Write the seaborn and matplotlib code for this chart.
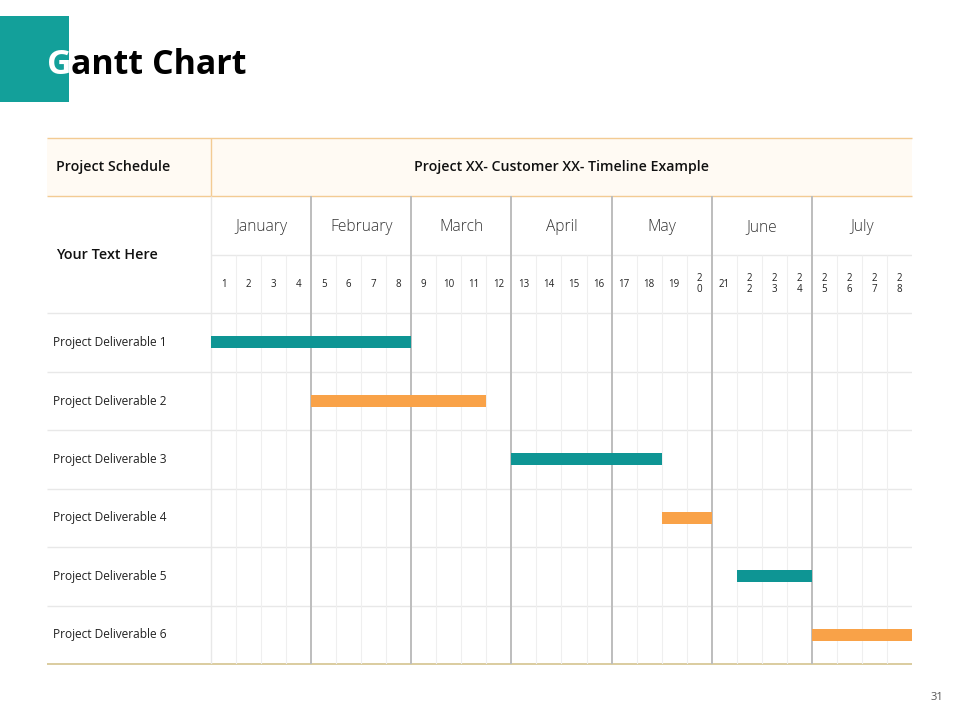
import matplotlib
matplotlib.use("Agg")
import matplotlib.pyplot as plt
from matplotlib.patches import Rectangle
import pandas as pd
import seaborn as sns

# chart data
months = ["January", "February", "March", "April", "May", "June", "July"]
week_labels = ["1", "2", "3", "4", "5", "6", "7", "8", "9", "10", "11", "12",
               "13", "14", "15", "16", "17", "18", "19", "2\n0", "21", "2\n2",
               "2\n3", "2\n4", "2\n5", "2\n6", "2\n7", "2\n8"]
deliverables = ["Project Deliverable 1", "Project Deliverable 2", "Project Deliverable 3",
                "Project Deliverable 4", "Project Deliverable 5", "Project Deliverable 6"]
start_week = [1, 5, 13, 19, 22, 25]
end_week = [8, 11, 18, 20, 24, 28]

TEAL = "#0E9594"
ORANGE = "#F9A248"
bar_colors = [TEAL, ORANGE, TEAL, ORANGE, TEAL, ORANGE]

sns.set_theme(style="white")
plt.rcParams["font.family"] = ["Open Sans", "DejaVu Sans"]

fig = plt.figure(figsize=(9.6, 7.2), dpi=100)

# title block: white "G" on the teal square, rest in black
fig.add_artist(Rectangle((0, 1 - 102 / 720), 69 / 960, 86 / 720,
                         transform=fig.transFigure, color="#13A09A", lw=0))
g_txt = fig.text(47 / 960, 1 - 74 / 720, "G", fontsize=24.5, fontweight="bold",
                 color="white", va="baseline", ha="left")
fig.canvas.draw()
g_right = g_txt.get_window_extent().x1 / fig.bbox.width
fig.text(g_right - 0.001, 1 - 74 / 720, "antt Chart", fontsize=24.5, fontweight="bold",
         color="black", va="baseline", ha="left")

# table grid
ax = fig.add_axes([47 / 960, 1 - 664 / 720, (912 - 47) / 960, (664 - 138) / 720])
n_weeks = len(week_labels)
XL = -(211 - 47) / 25.04
ax.set_xlim(XL, n_weeks)
ax.set_ylim(9, 0)
ax.axis("off")

ax.add_patch(Rectangle((XL, 0), n_weeks - XL, 1, color="#FFFAF3", lw=0, zorder=0))
BEIGE = "#F3CB93"
LIGHT = "#E8E8E8"
ax.hlines([0, 1], XL, n_weeks, color=BEIGE, lw=1, clip_on=False)
ax.hlines(2, 0, n_weeks, color=LIGHT, lw=1)
ax.hlines(range(3, 9), XL, n_weeks, color=LIGHT, lw=1)
ax.hlines(9, XL, n_weeks, color="#D8C897", lw=1.3, clip_on=False)
ax.vlines(0, 0, 1, color=BEIGE, lw=1)
ax.vlines(0, 1, 9, color=LIGHT, lw=1)
for w in range(1, n_weeks):
    if w % 4:
        ax.vlines(w, 2, 9, color="#EFEFEF", lw=0.8)
    else:
        ax.vlines(w, 1, 9, color="#BDBDBD", lw=1.4)

# header texts
ax.text(XL + 0.36, 0.5, "Project Schedule", fontsize=10.2, fontweight="semibold",
        va="center", ha="left", color="#111111")
ax.text(n_weeks / 2, 0.5, "Project XX- Customer XX- Timeline Example", fontsize=10.2,
        fontweight="semibold", va="center", ha="center", color="#111111")
ax.text(XL + 0.36, 2, "Your Text Here", fontsize=10.4, fontweight="semibold",
        va="center", ha="left", color="#111111")
for i, m in enumerate(months):
    ax.text(4 * i + 2, 1.52, m, fontsize=11.2, fontweight="light",
            va="center", ha="center", color="#333333")
for i, w in enumerate(week_labels):
    ax.text(i + 0.5, 2.5, w, fontsize=7, va="center", ha="center",
            color="#222222", linespacing=1.0)
for i, d in enumerate(deliverables):
    ax.text(XL + 0.24, 3.5 + i, d, fontsize=8.6, va="center", ha="left", color="#222222")

# gantt bars
df = pd.DataFrame({"task": deliverables, "start": start_week, "end": end_week})
df["left"] = df["start"] - 1
df["duration"] = df["end"] - df["left"]

bax = fig.add_axes([211 / 960, 1 - 664 / 720, 701 / 960, (664 - 313) / 720])
bax.barh(range(len(df)), df["duration"], left=df["left"], height=0.2,
         color=bar_colors, edgecolor="none")
bax.set_xlim(0, n_weeks)
bax.set_ylim(5.5, -0.5)
bax.axis("off")

fig.text(937 / 960, 1 - 698 / 720, "31", fontsize=8, color="#555555",
         ha="center", va="center")

fig.savefig("out.png", dpi=100)
